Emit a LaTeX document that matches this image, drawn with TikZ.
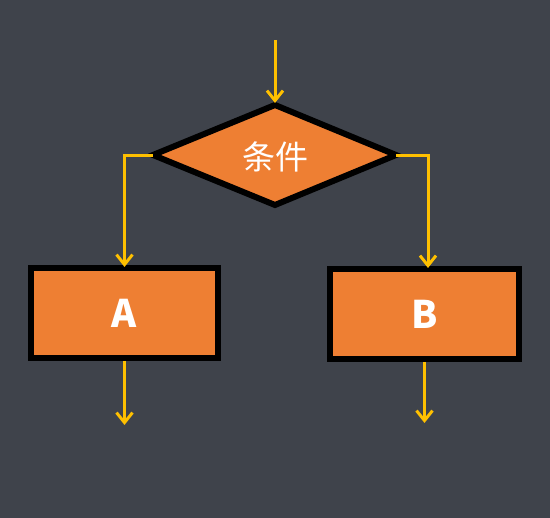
\documentclass[tikz,border=0pt]{standalone}
\usepackage{fontspec}
\newfontfamily\cjk{Noto Sans CJK SC}
\usetikzlibrary{arrows.meta}
\definecolor{bg}{HTML}{3F434B}
\definecolor{boxfill}{HTML}{EE7F33}
\definecolor{arr}{HTML}{FFC000}
\tikzset{
  flow/.style={draw=arr, line width=3pt, -{Straight Barb[length=10pt,width=16pt,line width=3pt]}},
  boxstyle/.style={draw=black, line width=6pt, fill=boxfill, minimum width=187pt, minimum height=90pt, inner sep=0pt, text=white, font=\cjk\bfseries\fontsize{38}{40}\selectfont},
}
\begin{document}
\begin{tikzpicture}[x=1pt,y=-1pt]
\fill[bg] (0,0) rectangle (550,518);
\useasboundingbox (0,0) rectangle (550,518);
\coordinate (start) at (275,40);
\fill[boxfill, draw=black, line width=6pt, line join=miter] (275,105) -- (396,155) -- (275,205) -- (153,155) -- cycle;
\coordinate (dtop) at (275,103);
\coordinate (dleft) at (153,155.5);
\coordinate (dright) at (396,155.5);
\node[text=white, font=\cjk\fontsize{33}{35}\selectfont] (cond) at (275,157) {条件};
\node[boxstyle] (A) at (124.5,313) {A};
\node[boxstyle, minimum width=189pt] (B) at (424.5,314) {B};
\coordinate (aend) at (124.5,425);
\coordinate (bend) at (424.5,423);
\draw[flow] (start) -- (dtop);
\draw[flow] (dleft) -| ([yshift=-2pt]A.north);
\draw[flow] (dright) -| ([xshift=3.5pt,yshift=-2pt]B.north);
\draw[flow] (A.south) -- (aend);
\draw[flow] (B.south) -- (bend);
\end{tikzpicture}
\end{document}
